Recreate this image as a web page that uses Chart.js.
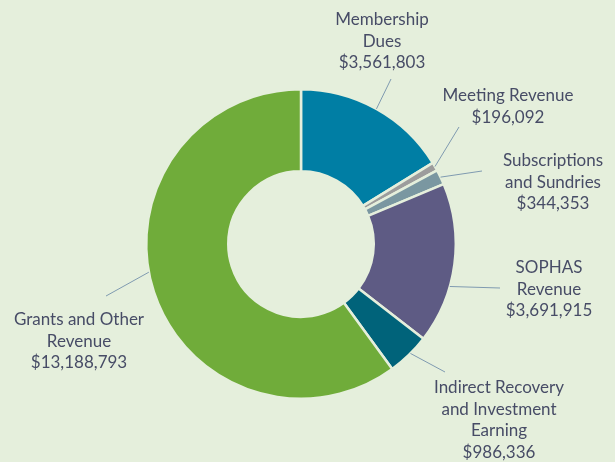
<!DOCTYPE html>
<html>
<head>
<meta charset="utf-8">
<script src="https://cdn.jsdelivr.net/npm/chart.js@4"></script>
<style>
  html, body { margin: 0; padding: 0; background: #e5efdc; }
  #wrap { width: 615px; height: 462px; }
</style>
</head>
<body>
<div id="wrap"><canvas id="revChart" width="615" height="462"></canvas></div>
<script>
const categories = ['Membership Dues', 'Meeting Revenue', 'Subscriptions and Sundries', 'SOPHAS Revenue', 'Indirect Recovery and Investment Earning', 'Grants and Other Revenue'];
const revenue = [3561803, 196092, 344353, 3691915, 986336, 13188793];
const labelLines = [
    ['Membership', 'Dues'],
    ['Meeting Revenue'],
    ['Subscriptions', 'and Sundries'],
    ['SOPHAS', 'Revenue'],
    ['Indirect Recovery', 'and Investment', 'Earning'],
    ['Grants and Other', 'Revenue']
];
const sliceColors = ['#007ea4', '#9c9c9c', '#7a97a1', '#5e5b84', '#00637a', '#70ac3a'];

// where along each slice the leader leaves, its end point, and label centre (x, first line y)
const leaderFrac = [0.5, 0.5, 0.5, 0.64, 0.45, 0.535];
const leaderEnd = [[391, 79], [459, 127], [482, 171], [500, 288], [445, 372], [106, 296]];
const labelAt = [[382, 20], [508, 96], [553, 161], [549, 268], [499, 388], [79, 320]];

const bg = '#e5efdc';

const labelPlugin = {
    id: 'sliceLabels',
    afterDraw(chart) {
        const ctx = chart.ctx;
        const meta = chart.getDatasetMeta(0);
        ctx.save();
        meta.data.forEach((arc, i) => {
            const p = arc.getProps(['x', 'y', 'startAngle', 'endAngle', 'outerRadius'], true);
            const a = p.startAngle + (p.endAngle - p.startAngle) * leaderFrac[i];
            const sx = p.x + Math.cos(a) * p.outerRadius;
            const sy = p.y + Math.sin(a) * p.outerRadius;
            ctx.strokeStyle = '#7f9ab0';
            ctx.lineWidth = 1;
            ctx.beginPath();
            ctx.moveTo(sx, sy);
            ctx.lineTo(leaderEnd[i][0], leaderEnd[i][1]);
            ctx.stroke();

            const lines = labelLines[i].concat(['$' + revenue[i].toLocaleString('en-US')]);
            ctx.fillStyle = '#474c66';
            ctx.font = '17px Lato';
            ctx.textAlign = 'center';
            ctx.textBaseline = 'middle';
            lines.forEach((t, j) => {
                ctx.fillText(t, labelAt[i][0], labelAt[i][1] + j * 21.5);
            });
        });
        ctx.restore();
    }
};

const ctx = document.getElementById('revChart').getContext('2d');
const revChart = new Chart(ctx, {
    type: 'doughnut',
    data: {
        labels: categories,
        datasets: [{
            data: revenue,
            backgroundColor: sliceColors,
            borderColor: bg,
            borderWidth: 2.5
        }]
    },
    options: {
        responsive: false,
        animation: false,
        cutout: '47%',
        layout: {
            padding: { left: 145, right: 158, top: 88, bottom: 62 }
        },
        plugins: {
            legend: { display: false },
            tooltip: { enabled: false }
        }
    },
    plugins: [labelPlugin]
});
</script>
</body>
</html>
